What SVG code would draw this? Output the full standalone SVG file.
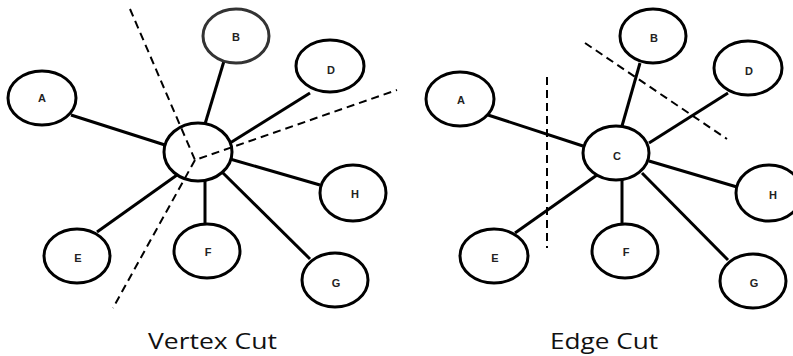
<svg xmlns="http://www.w3.org/2000/svg" width="793" height="356" viewBox="0 0 793 356">
<style>
.n ellipse{fill:#fff;stroke:#000;stroke-width:3}
.n text{font-family:"Liberation Sans",Arial,sans-serif;font-weight:bold;font-size:11px;text-anchor:middle;fill:#222}
.e line{stroke:#000;stroke-width:3}
.cut{stroke:#000;stroke-width:2;stroke-dasharray:8 5;fill:none}
.t{font-family:"Open Sans","Liberation Sans",sans-serif;font-size:22px;fill:#111}
</style>
<rect width="793" height="356" fill="#fff"/>
<g id="edges-left" class="e">
<line x1="71" y1="115" x2="165" y2="145"/>
<line x1="224" y1="61" x2="205" y2="124"/>
<line x1="310" y1="93" x2="230" y2="143"/>
<line x1="230" y1="159" x2="320" y2="185"/>
<line x1="97" y1="232" x2="177" y2="175"/>
<line x1="205" y1="224" x2="205" y2="180"/>
<line x1="310" y1="259" x2="222" y2="172"/>
</g>
<g id="edges-right" class="e">
<line x1="488" y1="115" x2="583" y2="146"/>
<line x1="640" y1="63" x2="622" y2="126"/>
<line x1="728" y1="93" x2="649" y2="143"/>
<line x1="649" y1="161" x2="737" y2="187"/>
<line x1="515" y1="233" x2="597" y2="175"/>
<line x1="622" y1="223" x2="622" y2="180"/>
<line x1="728" y1="260" x2="642" y2="173"/>
</g>
<g id="left-A" class="n"><ellipse cx="42" cy="98" rx="34" ry="27"/><text x="42" y="102">A</text></g>
<g id="left-B" class="n"><ellipse cx="236" cy="36" rx="33" ry="27" style="stroke:#333"/><text x="236" y="41">B</text></g>
<g id="left-D" class="n"><ellipse cx="330" cy="66" rx="34" ry="26"/><text x="331" y="74">D</text></g>
<g id="left-C" class="n"><ellipse cx="198" cy="152" rx="34" ry="29"/></g>
<g id="left-H" class="n"><ellipse cx="353" cy="193" rx="33" ry="28"/><text x="355" y="198">H</text></g>
<g id="left-E" class="n"><ellipse cx="77" cy="256" rx="33" ry="27"/><text x="78" y="262">E</text></g>
<g id="left-F" class="n"><ellipse cx="207" cy="251" rx="33" ry="27"/><text x="208" y="256">F</text></g>
<g id="left-G" class="n"><ellipse cx="335" cy="280" rx="33" ry="27"/><text x="336" y="287">G</text></g>
<g id="right-A" class="n"><ellipse cx="460" cy="99" rx="34" ry="27"/><text x="461" y="104">A</text></g>
<g id="right-B" class="n"><ellipse cx="653" cy="36" rx="33" ry="27"/><text x="654" y="42">B</text></g>
<g id="right-D" class="n"><ellipse cx="748" cy="68" rx="34" ry="27"/><text x="749" y="75">D</text></g>
<g id="right-C" class="n"><ellipse cx="616" cy="153" rx="33" ry="27"/><text x="617" y="160">C</text></g>
<g id="right-H" class="n"><ellipse cx="769" cy="193" rx="33" ry="28"/><text x="773" y="199">H</text></g>
<g id="right-E" class="n"><ellipse cx="494" cy="256" rx="34" ry="27"/><text x="495" y="262">E</text></g>
<g id="right-F" class="n"><ellipse cx="625" cy="251" rx="33" ry="27"/><text x="626" y="256">F</text></g>
<g id="right-G" class="n"><ellipse cx="753" cy="281" rx="33" ry="27"/><text x="754" y="287">G</text></g>
<g id="cuts">
<polyline class="cut" points="130,9 195,160 397,90"/>
<line class="cut" x1="195" y1="160" x2="113" y2="308"/>
<line class="cut" x1="547" y1="77" x2="547" y2="248"/>
<line class="cut" x1="585" y1="43" x2="727" y2="139"/>
</g>
<text class="t" x="148" y="349" textLength="129" lengthAdjust="spacingAndGlyphs">Vertex Cut</text>
<text class="t" x="550" y="349" textLength="108" lengthAdjust="spacingAndGlyphs">Edge Cut</text>
</svg>
